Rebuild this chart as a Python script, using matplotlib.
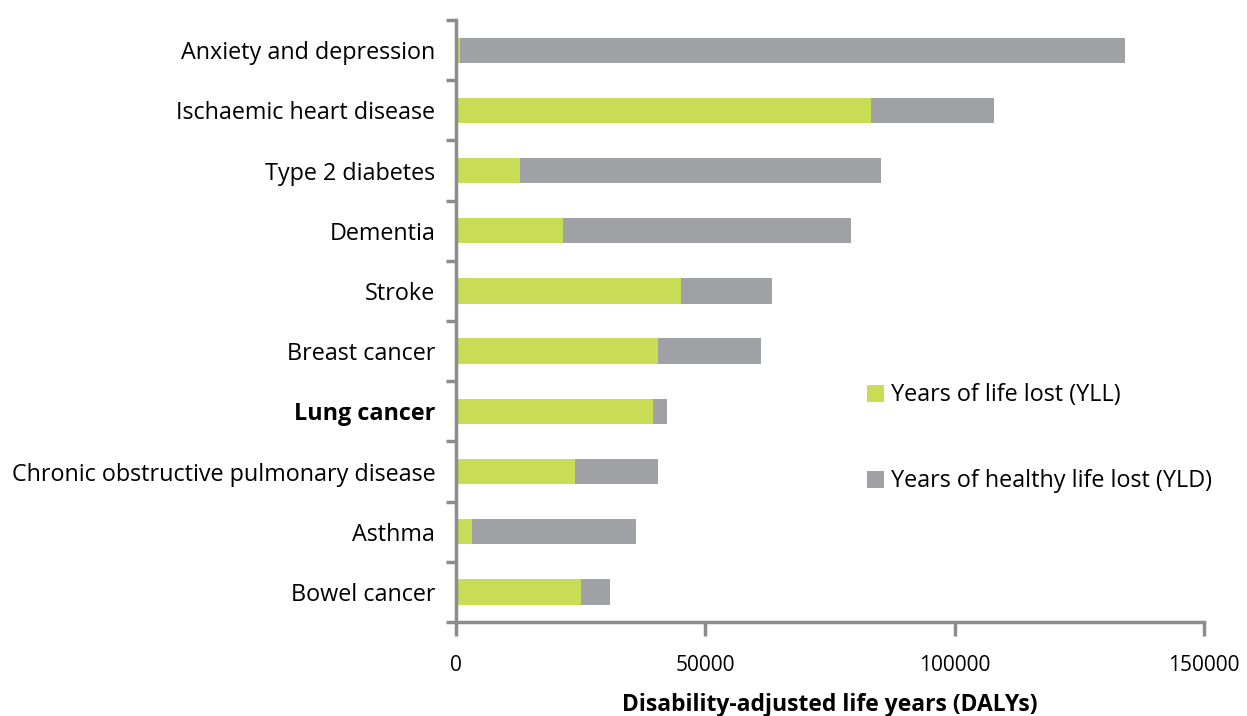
import numpy as np
import matplotlib.pyplot as plt

categories = ['Anxiety and depression', 'Ischaemic heart disease', 'Type 2 diabetes',
              'Dementia', 'Stroke', 'Breast cancer', 'Lung cancer',
              'Chronic obstructive pulmonary disease', 'Asthma', 'Bowel cancer']
yll = [800, 83200, 12900, 21500, 45100, 40500, 39500, 23800, 3200, 25000]
total = [134100, 107900, 85200, 79300, 63400, 61200, 42300, 40500, 36000, 30800]
yld = [t - a for t, a in zip(total, yll)]

green = '#c8dc55'
grey = '#a0a1a5'
axis_col = '#8c8c8c'

plt.rcParams['font.family'] = ['Open Sans', 'DejaVu Sans']

fig = plt.figure(figsize=(12.47, 7.16), dpi=100)
ax = fig.add_axes([0.3657, 0.1313, 0.5997, 0.8407])

y = np.arange(len(categories))
ax.barh(y, yll, height=0.42, color=green, label='Years of life lost (YLL)')
ax.barh(y, yld, left=yll, height=0.42, color=grey, label='Years of healthy life lost (YLD)')

ax.set_ylim(len(categories) - 0.5, -0.5)
ax.set_xlim(0, 150000)
ax.set_xticks([0, 50000, 100000, 150000])
ax.set_xticklabels(['0', '50000', '100000', '150000'], fontsize=15)

# y ticks sit between categories, labels go at the centres
ax.set_yticks(np.arange(-0.5, len(categories), 1))
ax.set_yticklabels([])
ax.set_yticks(y, minor=True)
ax.set_yticklabels(categories, minor=True, fontsize=16.8)
ax.tick_params(axis='y', which='minor', length=0, pad=15)
ax.tick_params(axis='y', which='major', length=7, width=2.5, color=axis_col)
ax.tick_params(axis='x', length=10, width=2.5, color=axis_col, pad=14)
for lab in ax.get_yticklabels(minor=True):
    if lab.get_text() == 'Lung cancer':
        lab.set_fontweight('bold')

for s in ['top', 'right']:
    ax.spines[s].set_visible(False)
for s in ['left', 'bottom']:
    ax.spines[s].set_color(axis_col)
    ax.spines[s].set_linewidth(2.5)

ax.set_xlabel('Disability-adjusted life years (DALYs)', fontsize=16.5,
              fontweight='bold', labelpad=12)

ax.legend(loc='center left', bbox_to_anchor=(0.549, 0.305), frameon=False,
          fontsize=16.8, handlelength=0.75, handleheight=0.75, handletextpad=0.3,
          labelspacing=2.65, borderpad=0, borderaxespad=0)

fig.savefig('out.png', dpi=100)
